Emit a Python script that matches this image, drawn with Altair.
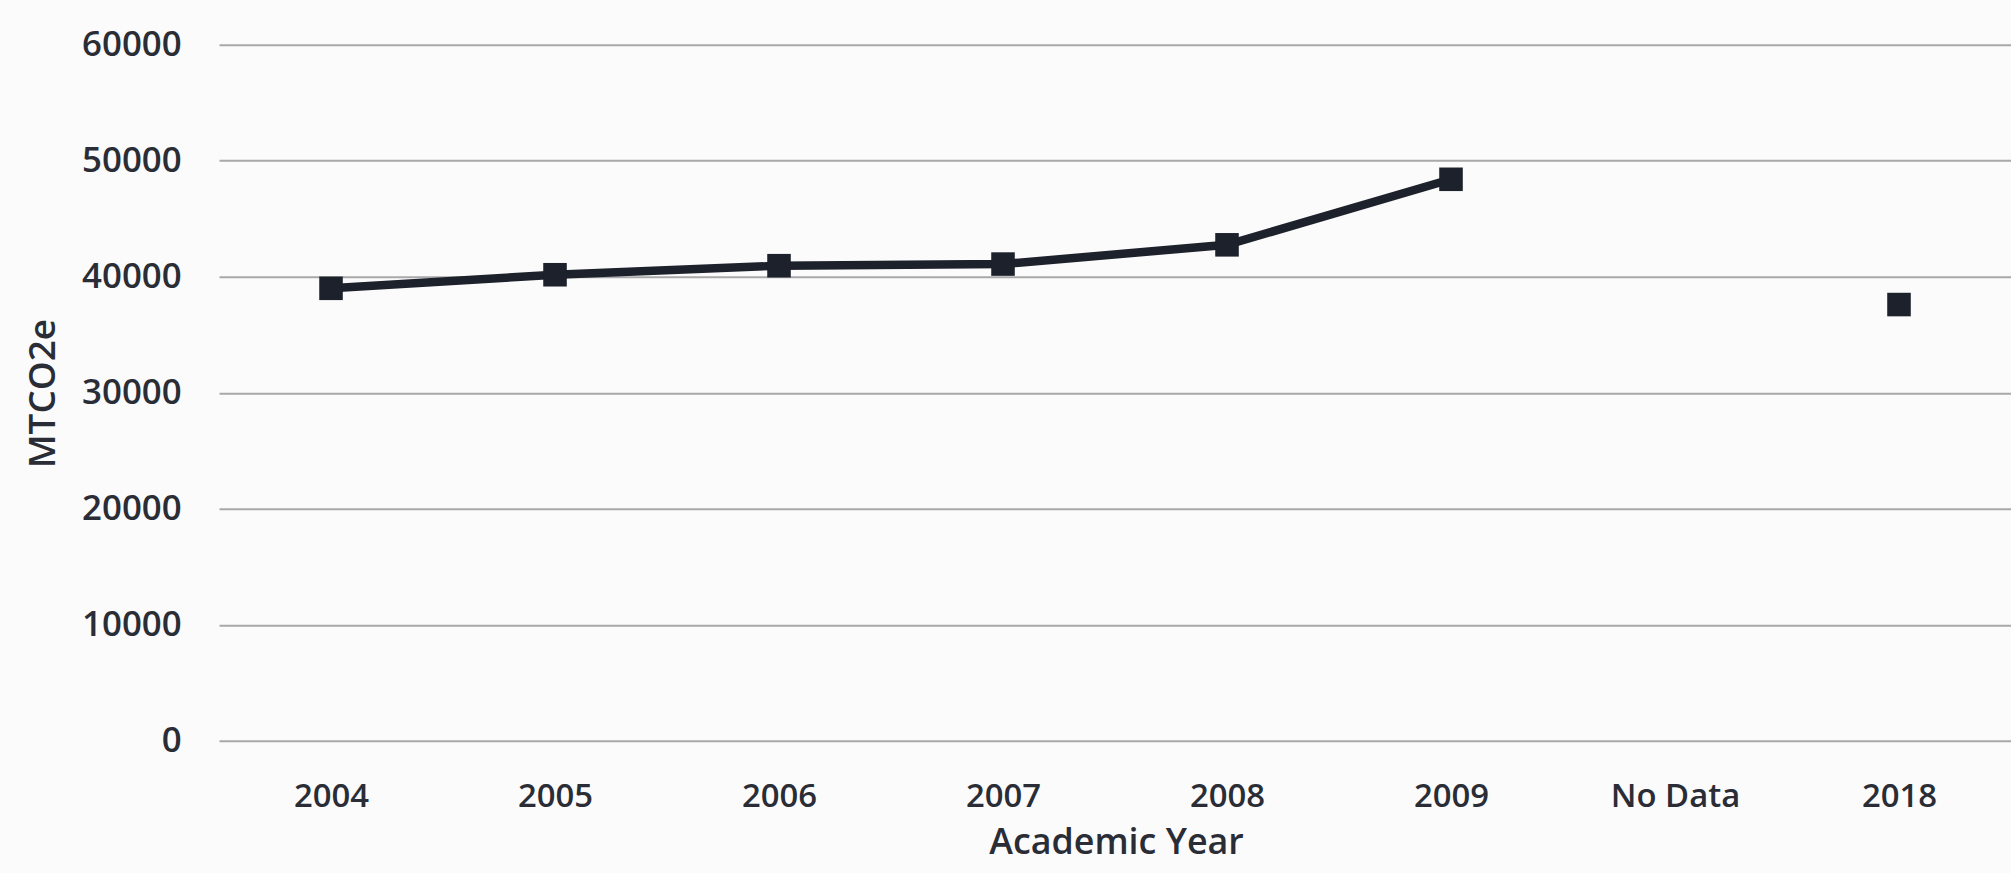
import altair as alt
import pandas as pd

categories = ["2004", "2005", "2006", "2007", "2008", "2009", "No Data", "2018"]
values = [39000, 40170, 40950, 41090, 42750, 48400, None, 37600]
segments = ["a", "a", "a", "a", "a", "a", "a", "b"]

df = pd.DataFrame({"year": categories, "mtco2e": values, "seg": segments})
pts = df.dropna()

FONT = "Open Sans"
INK = "#1d212b"
TXT = "#2a2d35"

x_enc = alt.X(
    "year:N",
    sort=categories,
    scale=alt.Scale(domain=categories, paddingInner=0, paddingOuter=0),
    axis=alt.Axis(
        title="Academic Year",
        labelAngle=0,
        ticks=False,
        tickSize=0,
        domain=False,
        grid=False,
        labelPadding=40,
        labelFontSize=33,
        labelFont=FONT,
        labelFontWeight=600,
        labelColor=TXT,
        titleFont=FONT,
        titleFontSize=36,
        titleFontWeight=600,
        titleColor=TXT,
        titleX=901,
        titleY=102,
        titleBaseline="middle",
        titleAlign="center",
    ),
)
y_enc = alt.Y(
    "mtco2e:Q",
    scale=alt.Scale(domain=[0, 60000], nice=False),
    axis=alt.Axis(
        title="MTCO2e",
        values=[0, 10000, 20000, 30000, 40000, 50000, 60000],
        format="d",
        ticks=False,
        tickSize=0,
        domain=False,
        grid=True,
        gridColor="#a9a9a9",
        gridWidth=2,
        labelPadding=38,
        labelFontSize=35,
        labelFont=FONT,
        labelFontWeight=600,
        labelColor=TXT,
        titleFont=FONT,
        titleFontSize=37,
        titleFontWeight=600,
        titleColor=TXT,
        titleAngle=270,
        titleX=-176,
        titleY=350,
        titleBaseline="middle",
        titleAlign="center",
    ),
)

line = alt.Chart(pts).mark_line(color=INK, strokeWidth=8.5).encode(
    x=x_enc, y=y_enc, detail="seg:N"
)
points = alt.Chart(pts).mark_point(
    shape="square", filled=True, size=560, color=INK, opacity=1
).encode(x=x_enc, y=y_enc)

chart = (
    alt.layer(line, points)
    .properties(
        width=1800,
        height=699,
        autosize=alt.AutoSizeParams(type="none"),
        padding={"left": 220, "top": 43, "right": 0, "bottom": 131},
        background="#fbfbfc",
    )
    .configure_view(stroke=None)
)

chart.save("out.html", embed_options={"renderer": "svg", "actions": False})
